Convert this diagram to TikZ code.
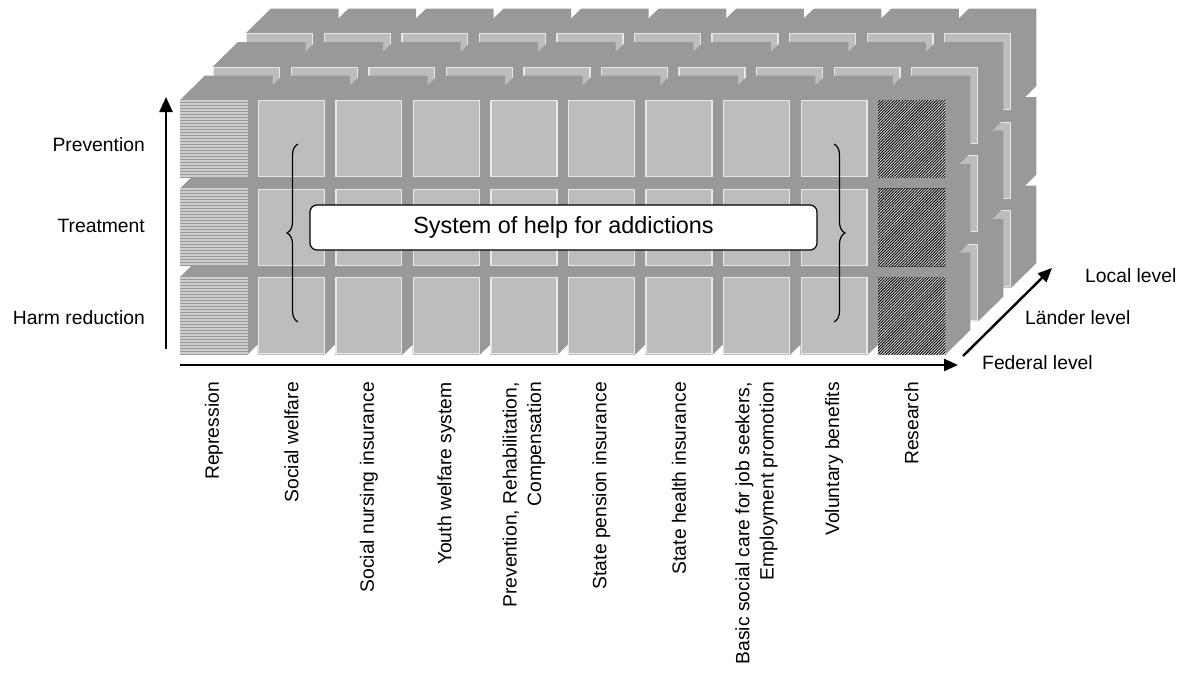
\documentclass[tikz,border=0pt]{standalone}
\usepackage{fontspec}
\setmainfont{Liberation Sans}
\usetikzlibrary{arrows.meta,patterns.meta,decorations.pathreplacing}
\definecolor{cubedark}{RGB}{153,153,153}
\definecolor{cubelight}{RGB}{189,189,189}
\definecolor{cubeedge}{RGB}{232,232,232}
\definecolor{stripelight}{RGB}{205,205,205}
\begin{document}
\begin{tikzpicture}[x=1pt,y=-1pt,
  lbl/.style={font=\fontsize{19.3}{24.5}\selectfont, inner sep=0pt},
  axis/.style={line width=2.4pt, -{Triangle[length=15pt,width=13pt]}},
  brc/.style={decorate, decoration={brace, amplitude=11pt}, line width=1.2pt},
  face/.style={fill=cubelight, draw=cubeedge, line width=1.3pt},
  body/.style={fill=cubedark},
  stripe/.style={draw=stripelight, line width=1.6pt}]
\useasboundingbox (0,0) rectangle (1183,672);
% cubes: layers back to front, rows bottom to top, columns left to right
\foreach \l in {2,1,0}{
 \foreach \r in {2,1,0}{
  \foreach \c in {0,...,9}{
   \pgfmathsetmacro\cx{180+33*\l+77.55*\c}
   \pgfmathsetmacro\cy{100-33.5*\l+88.5*\r}
   \fill[body] (\cx,\cy) -- ++(25,-24.5) -- ++(67.5,0) -- ++(0,77.5) -- ++(-25,24.5) -- ++(-67.5,0) -- cycle;
   \draw[face] (\cx+0.8,\cy+0.8) rectangle (\cx+66.7,\cy+76.7);
  }}}
% special front faces
\foreach \r in {0,1,2}{
  \pgfmathsetmacro\cy{100+88.5*\r}
  \pgfmathsetmacro\sy{floor(\cy)}
  \fill[cubedark] (180,\cy) rectangle (247.5,\cy+77.5);
  \foreach \k in {0,...,25}
    \draw[stripe] (180,\sy+1+3*\k) -- (247.5,\sy+1+3*\k);
  \fill[white!88!black] (878,\cy) rectangle (945.5,\cy+77.5);
  \fill[pattern={Lines[angle=45,distance=2pt,line width=0.9pt]}, pattern color=black]
    (878,\cy) rectangle (945.5,\cy+77.5);
}
% braces
\coordinate (lbB) at (298,322);
\coordinate (lbT) at (298,144);
\coordinate (rbT) at (834,144);
\coordinate (rbB) at (834,322);
\draw[brc] (lbB) -- (lbT);
\draw[brc] (rbT) -- (rbB);
% central box
\node[draw=black, line width=1.2pt, fill=white, rounded corners=7pt,
      minimum width=507pt, minimum height=45pt,
      font=\fontsize{23.4}{28}\selectfont] (sys) at (563.5,227.5) {System of help for addictions};
% axes
\coordinate (vb) at (166,349);
\coordinate (vt) at (166,97);
\coordinate (hb) at (180,365);
\coordinate (ht) at (958,365);
\coordinate (db) at (963,356);
\coordinate (dt) at (1052,268);
\draw[axis] (vb) -- (vt);
\draw[line width=2.4pt, -{Triangle[length=14pt,width=12pt]}] (hb) -- (ht);
\draw[line width=2.4pt, -{Triangle[length=14pt,width=12pt]}] (db) -- (dt);
% left labels
\node[lbl, anchor=east] (prev) at (145,145) {Prevention};
\node[lbl, anchor=east] (treat) at (145,226) {Treatment};
\node[lbl, anchor=east] (harm) at (145,318) {Harm reduction};
% right labels
\node[lbl, anchor=west] (local) at (1085,276) {Local level};
\node[lbl, anchor=west] (laender) at (1025,318) {Länder level};
\node[lbl, anchor=west] (federal) at (982,363) {Federal level};
% bottom labels
\node[lbl, rotate=90, anchor=east, align=right] (b0) at (214,382) {Repression};
\node[lbl, rotate=90, anchor=east, align=right] (b1) at (291.5,382) {Social welfare};
\node[lbl, rotate=90, anchor=east, align=right] (b2) at (369,382) {Social nursing insurance};
\node[lbl, rotate=90, anchor=east, align=right] (b3) at (446.5,382) {Youth welfare system};
\node[lbl, rotate=90, anchor=east, align=right] (b4) at (524,382) {Prevention, Rehabilitation,\\Compensation};
\node[lbl, rotate=90, anchor=east, align=right] (b5) at (601.5,382) {State pension insurance};
\node[lbl, rotate=90, anchor=east, align=right] (b6) at (679,382) {State health insurance};
\node[lbl, rotate=90, anchor=east, align=right] (b7) at (756.5,382) {Basic social care for job seekers,\\Employment promotion};
\node[lbl, rotate=90, anchor=east, align=right] (b8) at (834,382) {Voluntary benefits};
\node[lbl, rotate=90, anchor=east, align=right] (b9) at (911.5,382) {Research};
\end{tikzpicture}
\end{document}
